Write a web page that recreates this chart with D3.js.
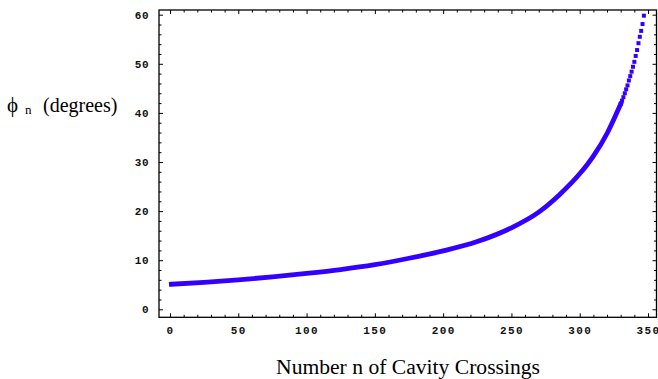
<!DOCTYPE html>
<html>
<head>
<meta charset="utf-8">
<script src="https://cdn.jsdelivr.net/npm/d3@7"></script>
<style>
  body { margin: 0; background: #fff; }
  svg { display: block; }
</style>
</head>
<body>
<div id="chart"></div>
<script>
// Dense part of the curve
const bandN = [1, 25, 50, 75, 100, 125, 150, 175, 200, 225, 250, 270, 285, 300, 305, 310, 320, 325, 330];
const bandPhi = [5.1, 5.5, 6.0, 6.6, 7.3, 8.1, 9.1, 10.4, 11.9, 13.8, 16.6, 19.8, 23.3, 27.6, 29.3, 31.2, 35.8, 38.7, 41.8];

// Upper part, where single points separate
const dotN = [330, 331, 332, 333, 334, 335, 336, 337, 338, 339, 340, 341, 342, 343, 344, 345, 346, 347];
const dotPhi = [41.8, 42.5, 43.2, 44.0, 44.8, 45.6, 46.6, 47.5, 48.4, 49.4, 50.4, 51.6, 52.8, 54.2, 55.5, 56.7, 58.1, 59.8];

const xTicks = [0, 50, 100, 150, 200, 250, 300, 350];
const yTicks = [0, 10, 20, 30, 40, 50, 60];
const xMinor = d3.range(0, 351, 10).filter((v) => v % 50 !== 0);
const yMinor = d3.range(0, 61, 2).filter((v) => v % 10 !== 0);

const W = 658, H = 379;
const frame = { left: 159, right: 656.5, top: 10, bottom: 317.3 };
const blue = "#3300ff";

const svg = d3.select("#chart").append("svg").attr("width", W).attr("height", H);

const x = d3.scaleLinear().domain([0, 350]).range([170, 648]);
const y = d3.scaleLinear().domain([0, 60]).range([309.3, 14.7]);

function styleAxis(g, size) {
  g.select(".domain").remove();
  g.selectAll("line").attr("stroke", "#000").attr("stroke-width", 1);
  g.selectAll("text")
    .attr("font-family", "'Liberation Mono', 'DejaVu Sans Mono', monospace")
    .attr("font-weight", "bold")
    .attr("font-size", size)
    .attr("fill", "#111");
}

// Bottom axis with labels
svg.append("g")
  .attr("transform", `translate(0,${frame.bottom})`)
  .call(d3.axisBottom(x).tickValues(xTicks).tickSizeInner(-4).tickSizeOuter(0).tickPadding(9))
  .call((g) => styleAxis(g, 11))
  .call((g) => g.selectAll("text").attr("letter-spacing", 1.4));
svg.append("g")
  .attr("transform", `translate(0,${frame.bottom})`)
  .call(d3.axisBottom(x).tickValues(xMinor).tickSizeInner(-2.5).tickSizeOuter(0).tickFormat(""))
  .call((g) => styleAxis(g, 11));

// Top frame ticks
svg.append("g")
  .attr("transform", `translate(0,${frame.top})`)
  .call(d3.axisTop(x).tickValues(xTicks).tickSizeInner(-4).tickSizeOuter(0).tickFormat(""))
  .call((g) => styleAxis(g, 11));
svg.append("g")
  .attr("transform", `translate(0,${frame.top})`)
  .call(d3.axisTop(x).tickValues(xMinor).tickSizeInner(-2.5).tickSizeOuter(0).tickFormat(""))
  .call((g) => styleAxis(g, 11));

// Left axis with labels
svg.append("g")
  .attr("transform", `translate(${frame.left},0)`)
  .call(d3.axisLeft(y).tickValues(yTicks).tickSizeInner(-4).tickSizeOuter(0).tickPadding(10))
  .call((g) => styleAxis(g, 11))
  .call((g) => g.selectAll("text").attr("letter-spacing", 0.5));
svg.append("g")
  .attr("transform", `translate(${frame.left},0)`)
  .call(d3.axisLeft(y).tickValues(yMinor).tickSizeInner(-2.5).tickSizeOuter(0).tickFormat(""))
  .call((g) => styleAxis(g, 11));

// Right frame ticks
svg.append("g")
  .attr("transform", `translate(${frame.right},0)`)
  .call(d3.axisRight(y).tickValues(yTicks).tickSizeInner(-4).tickSizeOuter(0).tickFormat(""))
  .call((g) => styleAxis(g, 11));
svg.append("g")
  .attr("transform", `translate(${frame.right},0)`)
  .call(d3.axisRight(y).tickValues(yMinor).tickSizeInner(-2.5).tickSizeOuter(0).tickFormat(""))
  .call((g) => styleAxis(g, 11));

// Frame
svg.append("rect")
  .attr("x", frame.left)
  .attr("y", frame.top)
  .attr("width", frame.right - frame.left)
  .attr("height", frame.bottom - frame.top)
  .attr("fill", "none")
  .attr("stroke", "#000")
  .attr("stroke-width", 1.3);

// Dense band of points
const band = bandN.map((n, i) => ({ n, phi: bandPhi[i] }));
svg.append("path")
  .datum(band)
  .attr("d", d3.line().x((d) => x(d.n)).y((d) => y(d.phi)).curve(d3.curveMonotoneX))
  .attr("fill", "none")
  .attr("stroke", blue)
  .attr("stroke-width", 4.8)
  .attr("stroke-linecap", "square");

// Separate points near the top
const dots = dotN.map((n, i) => ({ n, phi: dotPhi[i] }));
svg.append("g")
  .selectAll("rect")
  .data(dots)
  .enter()
  .append("rect")
  .attr("x", (d) => x(d.n) - 2)
  .attr("y", (d) => y(d.phi) - 2)
  .attr("width", 4)
  .attr("height", 4)
  .attr("fill", blue);

// Axis titles
svg.append("text")
  .attr("x", 408)
  .attr("y", 374)
  .attr("text-anchor", "middle")
  .attr("font-family", "'Liberation Serif', 'Times New Roman', serif")
  .attr("font-size", 21.6)
  .attr("fill", "#000")
  .text("Number n of Cavity Crossings");

const yTitle = svg.append("text")
  .attr("x", 7)
  .attr("y", 112)
  .attr("font-family", "'Liberation Serif', 'DejaVu Serif', serif")
  .attr("font-size", 21)
  .attr("fill", "#000");
yTitle.append("tspan").text("ϕ");
yTitle.append("tspan").attr("x", 25).attr("dy", 2).attr("font-size", 13).text("n");
yTitle.append("tspan").attr("x", 43).attr("dy", -2).attr("font-size", 20).text("(degrees)");
</script>
</body>
</html>
